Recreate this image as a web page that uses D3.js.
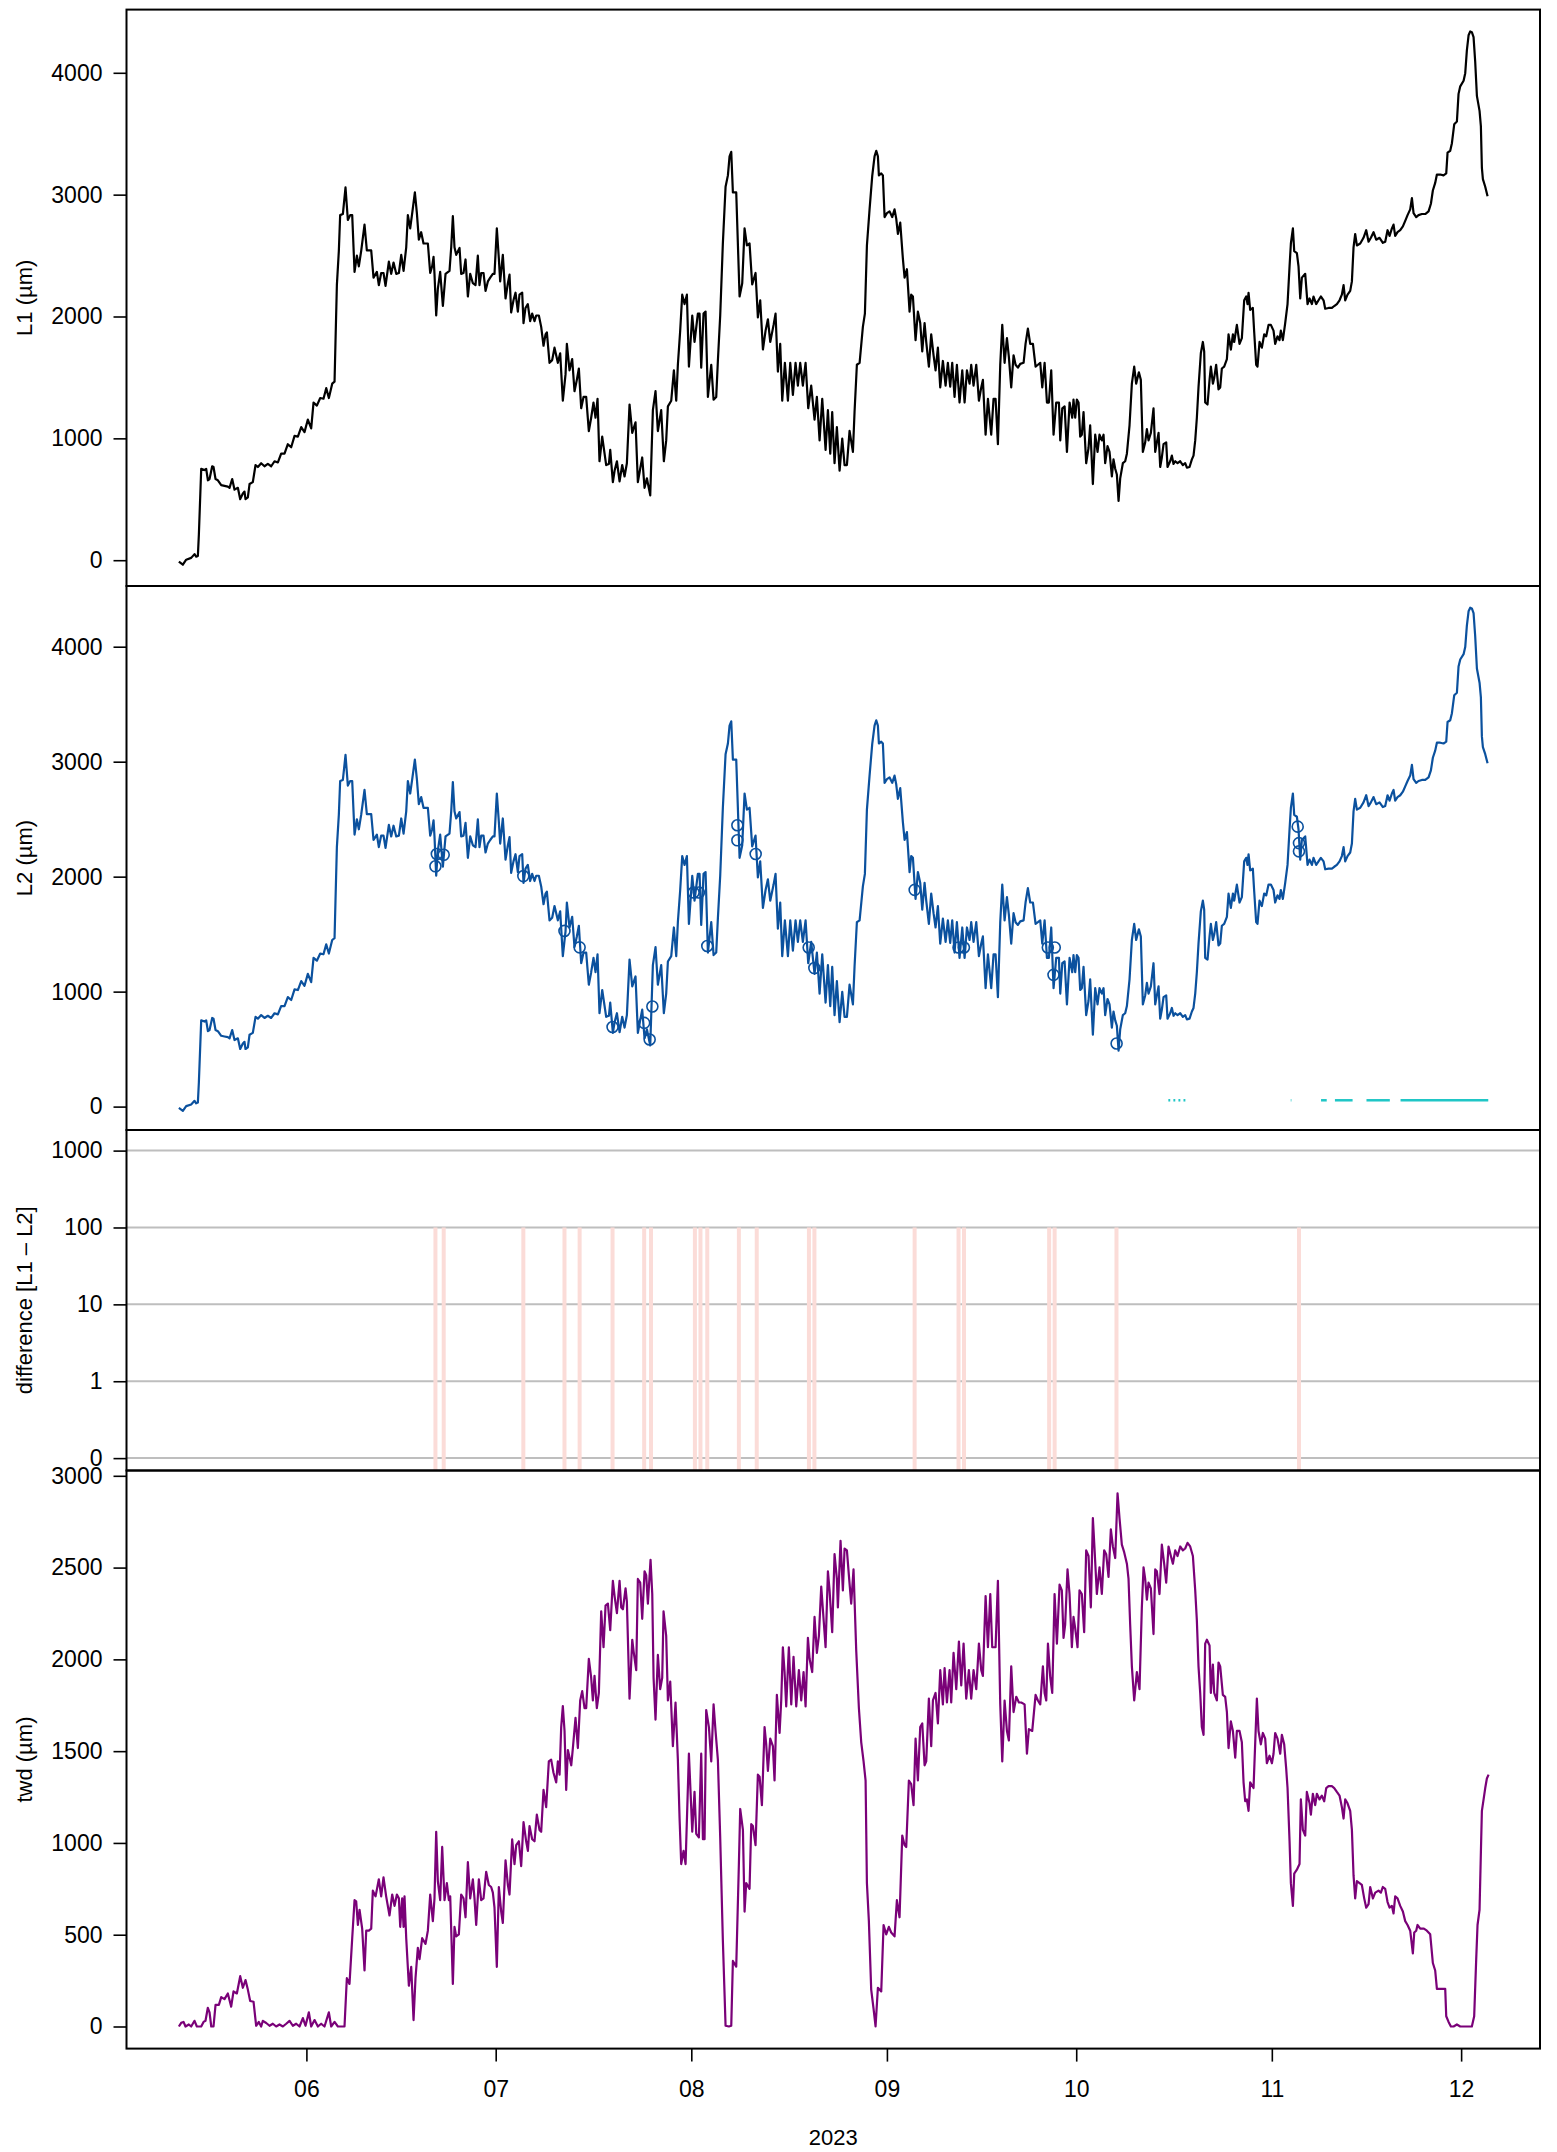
<!DOCTYPE html>
<html>
<head>
<meta charset="utf-8">
<script src="https://d3js.org/d3.v7.min.js"></script>
<style>
  body { margin: 0; background: #fff; }
  svg text { font-family: "Liberation Sans", Arial, sans-serif; fill: #000; }
</style>
</head>
<body>
<div id="chart"></div>
<script>
// time is given as days since 2023-05-01 (UTC), values in µm

const l1Days = [10.79,11.42,11.95,12.74,13.27,13.53,13.80,13.96,14.33,14.86,15.12,15.39,15.65,16.07,16.28,16.60,16.97,17.50,18.02,18.55,18.82,19.24,19.61,20.14,20.51,20.93,21.19,21.35,21.72,21.99,22.51,22.94,23.31,23.83,24.36,24.89,25.42,25.95,26.48,27.00,27.53,28.06,28.59,29.12,29.65,30.18,30.70,31.23,31.76,32.13,32.66,33.19,33.71,34.14,34.56,35.09,35.46,35.61,35.83,36.14,36.35,36.78,37.20,37.57,37.94,38.26,38.63,39.00,39.31,39.68,40.21,40.58,41.27,41.64,42.17,42.48,42.85,43.22,43.54,44.07,44.44,44.81,45.24,45.66,46.03,46.40,46.82,47.08,47.45,47.77,48.19,48.51,48.82,49.19,49.56,50.25,50.62,50.93,51.15,51.30,51.57,51.83,52.20,52.63,53.05,53.68,53.95,54.21,54.47,54.74,55.27,55.53,55.90,56.22,56.59,56.96,57.38,57.80,58.17,58.43,58.70,59.07,59.39,59.76,60.13,60.55,60.81,61.18,61.50,61.71,62.13,62.56,62.93,63.19,63.45,63.82,64.14,64.51,64.77,65.20,65.41,65.72,66.09,66.46,66.78,67.15,67.42,67.84,68.21,68.58,68.90,69.11,69.53,69.95,70.32,70.85,71.22,71.64,72.07,72.28,72.70,73.12,73.49,73.86,74.18,74.55,74.92,75.34,75.76,76.13,76.50,76.82,77.14,77.45,77.88,
  78.51,78.94,79.15,79.57,79.84,80.21,80.63,81.05,81.42,81.79,82.21,82.64,83.16,83.53,83.90,84.22,84.59,84.96,85.49,85.91,86.33,86.70,87.23,87.65,88.02,88.29,88.82,89.24,89.61,89.87,90.24,90.56,90.93,91.30,91.62,92.15,92.51,93.04,93.31,93.57,93.94,94.26,94.63,95.16,95.53,95.95,96.21,96.58,97.00,97.43,97.80,98.06,98.33,98.59,99.12,99.65,100.07,100.44,100.81,101.23,101.65,102.18,102.55,102.92,103.35,103.77,104.14,104.51,105.04,105.35,105.72,106.09,106.41,106.83,107.31,107.68,108.10,108.52,108.89,109.26,109.68,110.11,110.53,111.00,111.53,111.90,112.33,112.75,113.28,113.65,114.02,114.33,114.70,115.07,115.50,115.92,116.29,116.66,117.08,117.61,117.87,118.24,118.67,119.19,119.51,119.83,120.25,120.67,121.04,121.31,121.57,121.73,122.10,122.36,122.63,123.00,123.42,123.84,124.21,124.48,124.74,125.11,125.53,125.80,126.17,126.59,126.85,127.12,127.54,127.91,128.28,128.60,128.97,129.23,129.65,130.02,130.39,130.71,131.08,131.45,131.87,132.30,132.66,133.03,133.35,133.72,134.09,134.51,134.94,135.31,135.68,136.10,136.36,136.73,137.16,137.58,137.95,138.21,138.64,139.01,139.53,139.90,140.22,140.59,140.96,141.28,141.65,142.02,142.33,142.70,143.07,143.39,143.76,144.13,144.66,144.97,145.34,145.71,146.14,146.56,146.93,147.30,147.62,147.99,148.36,148.67,149.04,149.41,149.83,150.26,150.47,150.79,151.16,151.53,151.95,152.37,
  152.57,152.84,153.10,153.37,153.63,153.89,154.16,154.58,154.95,155.21,155.64,156.01,156.38,156.69,157.06,157.33,157.59,157.96,158.28,158.65,158.91,159.18,159.44,159.71,159.97,160.39,160.76,161.03,161.45,161.82,162.19,162.50,162.93,163.24,163.56,163.93,164.20,164.46,164.83,165.25,165.52,165.78,166.05,166.31,166.57,166.84,167.26,167.47,167.89,168.16,168.42,168.69,169.06,169.48,169.90,170.27,170.54,170.96,171.33,171.59,171.86,172.12,172.38,172.75,173.07,173.28,173.44,173.81,174.13,174.34,174.66,174.87,175.18,175.55,175.82,176.08,176.45,176.88,177.14,177.51,177.83,178.04,178.46,178.88,179.25,179.62,179.94,180.15,180.31,180.57,180.99,181.21,181.52,181.73,182.05,182.42,182.79,183.11,183.48,183.85,184.27,184.53,184.90,185.22,185.43,185.75,186.12,186.49,186.81,187.02,187.34,187.55,187.97,188.23,188.50,188.76,189.29,189.66,189.98,190.35,190.61,191.03,191.40,191.77,192.20,192.46,192.99,193.52,193.89,194.31,194.73,195.10,195.37,195.63,196.00,196.42,196.69,196.95,197.21,197.48,198.01,198.53,198.96,199.33,199.70,200.12,200.54,201.07,201.60,201.97,202.34,202.66,203.03,203.29,203.55,203.92,204.35,204.77,205.14,205.51,205.93,206.20,206.46,206.88,207.25,207.78,208.31,208.84,209.21,209.52,209.89,210.16,210.69,211.21,211.64,211.85,212.27,212.54,212.91,213.33,213.59,213.86,214.39,214.65,214.91,215.18,215.44,215.70,215.97,216.23,216.50,216.92,217.13,217.29,217.45,217.82,218.19];

const l1Values = [-12,-37,4,19,50,29,35,212,750,740,750,656,666,771,765,666,656,616,610,604,594,666,579,594,501,548,563,501,516,625,641,781,765,796,771,790,771,812,802,874,874,952,927,1020,1014,1092,1051,1154,1082,1294,1269,1331,1325,1412,1331,1449,1465,1791,2257,2537,2832,2841,3059,2792,2832,2832,2366,2499,2412,2537,2754,2543,2543,2319,2366,2257,2357,2357,2251,2450,2350,2443,2350,2357,2506,2375,2568,2832,2723,2848,3018,2848,2630,2692,2599,2599,2357,2412,2490,2350,2008,2226,2366,2086,2350,2375,2568,2823,2568,2506,2562,2350,2357,2468,2164,2350,2273,2257,2499,2257,2357,2357,2210,2288,2319,2350,2350,2723,2475,2288,2506,2148,2273,2344,2033,2133,2195,2040,2179,2195,1946,2070,2102,1962,2024,1962,2008,2008,1915,1760,1853,1869,1620,1642,1744,1620,1698,1309,1527,1775,1558,1651,1387,1480,1573,1247,1340,1340,1060,1169,1294,1169,1325,812,1014,
  781,790,905,641,734,812,647,781,687,796,1278,1045,1132,641,750,843,594,672,532,1231,1387,1060,1231,812,983,1262,1309,1558,1309,1604,1884,2179,2102,2179,1589,2008,1791,2024,2024,1580,2024,2040,1340,1604,1318,1340,1635,2008,2599,3065,3158,3314,3351,3018,3018,2164,2273,2723,2583,2599,2263,2357,1993,2133,1729,1884,1977,1791,1931,2024,1548,1775,1309,1620,1309,1620,1356,1620,1433,1620,1433,1620,1247,1433,1154,1340,983,1325,905,1231,874,1216,796,1092,734,998,781,781,1061,889,1216,1604,1620,1915,2024,2583,2879,3152,3314,3360,3314,3158,3174,3158,2816,2848,2863,2816,2879,2801,2677,2770,2475,2319,2388,2040,2179,2164,1806,2040,1946,1713,1946,1791,1589,1853,1682,1558,1744,1418,1635,1433,1620,1424,1620,1340,1604,1294,1558,1294,1558,1449,1604,1433,1604,1309,1418,1480,1030,1325,1030,1325,1325,952,1604,1931,1620,1822,1667,1418,1682,1604,1580,1611,1620,1775,1900,1775,1775,1589,1604,1620,1418,1620,1294,1294,1558,1030,1294,1294,983,1247,1262,889,1294,1169,
  1318,1169,1318,1294,1014,1030,1216,796,921,1107,625,1030,889,1030,983,1030,796,936,889,687,827,750,703,486,672,796,812,874,1107,1449,1589,1449,1542,1480,889,967,1076,983,1045,1247,889,967,1045,765,843,952,967,765,812,858,790,812,796,812,781,796,759,765,827,858,983,1169,1418,1698,1791,1713,1294,1278,1480,1589,1449,1496,1604,1402,1418,1573,1589,1651,1853,1729,1853,1791,1931,1775,1822,2133,2164,2102,2195,2055,2070,1869,1604,1589,1791,1744,1853,1837,1931,1931,1884,1775,1837,1806,1884,1806,1946,2102,2412,2599,2723,2537,2521,2412,2148,2319,2350,2102,2148,2102,2164,2102,2133,2164,2133,2064,2070,2070,2086,2102,2133,2179,2257,2133,2179,2210,2288,2568,2677,2583,2599,2646,2708,2614,2646,2692,2630,2646,2605,2614,2708,2661,2723,2754,2661,2692,2708,2739,2785,2832,2879,2972,2848,2816,2832,2841,2841,2863,2925,3034,3096,3165,3165,3158,3174,3345,3360,3422,3578,3600,3827,3889,3935,3997,4184,4308,4339,4333,4293,4091,3811,3687,3562,3220,3127,3065,2987];

// L2 follows L1 exactly outside the flagged points
const l2Days = l1Days;
const l2Values = l1Values;

const twdDays = [10.79,11.16,11.53,11.84,12.37,12.74,13.27,13.64,14.33,14.70,15.01,15.38,15.65,15.92,16.28,16.60,17.13,17.50,18.02,18.55,19.08,19.45,19.98,20.51,20.93,21.35,21.72,22.09,22.62,23.04,23.46,23.83,24.10,24.63,25.16,25.68,26.21,26.74,27.27,27.80,28.33,28.85,29.38,29.91,30.44,30.86,31.39,31.76,32.29,32.82,33.34,33.87,34.56,34.93,35.46,35.99,37.04,37.41,37.83,38.26,38.63,38.89,39.16,39.42,39.84,40.21,40.48,40.90,41.27,41.53,41.96,42.48,42.85,43.22,43.64,44.17,44.60,44.97,45.34,45.66,45.87,46.18,46.40,46.55,46.82,47.24,47.61,47.98,48.29,48.66,48.93,49.35,49.88,50.25,50.62,51.04,51.30,51.57,51.83,52.20,52.52,52.89,53.26,53.58,53.79,54.21,54.47,54.74,55.16,55.53,55.90,56.22,56.59,56.96,57.38,57.64,57.91,58.33,58.70,59.07,59.49,59.91,60.28,60.55,60.81,61.18,61.50,61.87,62.13,62.56,62.93,63.19,63.61,63.98,64.25,64.67,65.04,65.41,65.83,66.10,66.36,66.78,67.15,67.52,67.94,68.21,68.58,69.00,69.42,69.79,70.16,70.59,70.85,71.12,71.38,71.64,71.91,72.17,72.44,72.97,73.23,73.65,74.02,74.39,74.71,75.08,75.34,75.76,76.13,76.40,76.66,77.03,77.35,77.72,78.09,
  78.41,78.78,79.15,79.57,79.84,80.21,80.63,80.89,81.16,81.58,81.79,82.21,82.64,82.85,83.27,83.53,83.90,84.22,84.59,84.85,85.12,85.54,85.81,86.02,86.33,86.70,87.07,87.39,87.60,88.02,88.29,88.66,89.08,89.50,89.87,90.14,90.40,90.77,91.09,91.62,92.15,92.51,92.78,93.20,93.57,93.84,94.10,94.36,94.79,95.16,95.53,95.84,96.21,96.58,97.00,97.43,97.96,98.33,98.59,99.12,99.54,99.75,100.18,100.44,100.70,101.23,101.50,101.76,102.18,102.55,102.82,103.19,103.61,103.87,104.14,104.51,104.93,105.19,105.56,105.99,106.25,106.51,106.78,107.04,107.46,107.84,108.20,108.63,109.05,109.42,109.79,110.11,110.48,110.74,111.16,111.53,111.90,112.22,112.59,112.85,113.28,113.65,113.91,114.33,114.70,115.07,115.23,115.65,116.02,116.29,116.66,116.97,117.34,117.71,118.14,118.56,118.93,119.30,119.62,119.83,120.14,120.51,120.88,121.20,121.57,122.10,122.47,122.89,123.31,123.68,124.21,124.58,125.00,125.43,125.80,126.06,126.48,126.85,127.22,127.54,127.91,128.28,128.60,128.97,129.23,129.65,130.02,130.29,130.71,131.08,131.45,131.87,132.14,132.51,132.93,133.19,133.56,133.99,134.41,134.78,135.15,135.57,135.99,136.36,136.73,137.16,137.58,137.95,138.21,138.64,139.01,139.38,139.69,140.22,140.59,140.96,141.28,141.65,142.02,142.33,142.70,143.07,143.50,143.92,144.29,144.82,145.19,145.50,146.03,146.56,146.93,147.30,147.72,147.99,148.25,148.52,148.89,149.20,149.57,149.94,150.36,
  150.72,150.99,151.25,151.62,151.94,152.31,152.57,152.84,153.21,153.52,153.89,154.26,154.58,154.95,155.32,155.64,155.90,156.27,156.69,157.06,157.43,157.75,158.12,158.49,158.81,159.18,159.55,159.86,160.23,160.60,161.03,161.29,161.55,161.82,162.19,162.61,163.03,163.40,163.67,163.93,164.20,164.46,164.83,165.25,165.52,165.78,166.20,166.57,166.94,167.26,167.63,168.00,168.32,168.69,169.06,169.48,169.90,170.27,170.64,171.06,171.49,171.86,172.12,172.38,172.65,172.91,173.18,173.44,173.71,174.13,174.34,174.66,174.87,175.29,175.55,175.82,176.24,176.61,176.88,177.14,177.51,177.83,178.20,178.46,178.88,179.25,179.52,179.78,180.04,180.31,180.57,181.10,181.37,181.63,181.89,182.26,182.58,182.95,183.21,183.64,184.01,184.27,184.53,184.90,185.33,185.59,185.96,186.28,186.49,186.81,187.02,187.34,187.55,187.97,188.39,188.60,188.92,189.29,189.55,189.98,190.19,190.50,190.87,191.14,191.56,191.93,192.30,192.62,192.99,193.52,193.89,194.31,194.73,195.10,195.37,195.63,196.00,196.42,196.69,196.95,197.21,197.48,197.90,198.27,198.64,198.96,199.33,199.59,200.02,200.39,200.91,201.28,201.60,201.97,202.34,202.66,203.03,203.29,203.55,203.92,204.35,204.77,205.14,205.51,205.93,206.35,206.57,206.88,207.09,207.52,208.10,208.57,209.10,209.52,209.89,210.16,210.80,211.48,211.64,212.01,212.38,212.80,213.33,213.86,214.91,215.70,216.07,216.39,216.60,216.92,217.13,217.29,217.56,217.82,218.08,218.35];

const twdValues = [0,20,25,0,11,0,31,0,0,25,31,102,77,0,0,118,118,160,149,180,108,191,180,274,211,253,201,139,135,4,25,0,31,19,4,15,0,11,0,15,31,4,15,0,46,4,77,0,35,0,15,0,77,0,25,0,0,263,232,481,688,682,553,636,533,305,522,522,533,740,709,802,709,812,709,605,719,657,719,698,543,698,543,709,481,222,325,35,263,429,367,481,450,522,719,574,698,1061,792,688,978,688,781,688,709,232,543,491,502,719,698,595,895,698,802,698,553,802,688,698,843,771,760,729,647,325,760,626,564,905,771,719,1020,885,988,1009,874,1113,1009,957,1092,1020,1009,1154,1071,1061,1289,1195,1444,1454,1382,1330,1444,1372,1631,1745,1610,1289,1506,1423,1517,1682,1517,1776,1827,1734,1734,2003,1900,1776,1910,1734,1817,2262,2066,
  2293,2304,2159,2428,2345,2252,2428,2283,2273,2387,2314,1786,2107,2045,1941,2438,2418,2221,2480,2459,2304,2542,2356,1900,1672,2024,1838,1900,2262,2128,1776,1879,1527,1765,1454,1133,885,957,885,1486,1061,1278,1050,1030,1486,1020,1020,1724,1631,1444,1755,1610,1454,1030,470,4,0,4,357,326,885,1185,1071,626,781,750,1102,1092,988,1372,1361,1206,1631,1537,1392,1568,1527,1340,1807,1599,1776,2066,1931,1744,2066,1755,2014,1744,1941,1776,1931,1744,2117,2003,1931,2231,2035,2128,2397,2273,2066,2480,2376,2148,2573,2438,2283,2646,2376,2604,2594,2459,2304,2490,2045,1734,1548,1444,1340,781,574,201,97,0,211,191,553,502,543,512,491,688,595,1040,988,978,1340,1320,1206,1568,1340,1631,1651,1423,1444,1786,1527,1776,1817,1651,1941,1755,1952,1765,1941,1765,2035,1838,2097,1858,2086,1786,1941,1786,1941,1838,2086,1941,1910,2345,2066,2356,2066,2066,2428,1755,1444,1776,1610,1558,1962,1713,1796,1765,1765,1755,1486,1620,1610,1807,1776,1755,1962,1817,1776,2086,1900,1817,2356,2086,2407,
  2376,2117,2190,2490,2356,2066,2231,2169,2066,2376,2356,2148,2594,2563,2283,2770,2604,2356,2501,2356,2594,2573,2449,2708,2615,2552,2905,2770,2625,2584,2521,2438,2190,1962,1776,1931,1838,2283,2501,2438,2325,2418,2387,2138,2490,2480,2356,2625,2521,2418,2615,2563,2521,2594,2563,2615,2594,2604,2635,2615,2563,2376,2211,1962,1817,1631,1589,2086,2107,2076,1817,1972,1817,1776,1983,1962,1807,1796,1713,1517,1662,1610,1465,1610,1610,1548,1330,1227,1237,1175,1330,1299,1548,1786,1610,1537,1599,1568,1434,1475,1434,1486,1599,1568,1486,1589,1537,1403,1299,1009,781,657,833,854,885,1237,1071,1040,1278,1216,1154,1268,1206,1268,1237,1258,1227,1299,1309,1309,1299,1278,1258,1195,1133,1237,1216,1175,1071,823,698,792,781,771,698,647,667,760,698,729,740,729,760,750,678,647,657,616,709,698,657,626,574,553,522,398,512,522,553,533,533,522,502,346,305,205,205,205,56,25,0,0,11,0,0,0,56,367,553,636,947,1175,1237,1299,1351,1372];

// flagged points: L1 - L2 difference bars and the corrected L2 points
const diffDays = [51.45,52.76,65.38,71.90,74.30,79.52,84.53,85.61,92.57,93.45,94.53,99.54,102.37,110.64,111.51,127.39,134.35,135.22,148.71,149.58,159.38,188.31];
const diffValues = [100,100,100,100,100,100,100,100,100,100,100,100,100,100,100,100,100,100,100,100,100,100];

const markDays = [51.45,51.67,52.76,65.38,71.90,74.30,79.52,84.53,85.40,85.83,92.36,93.20,94.53,99.30,99.30,102.20,110.60,111.50,127.40,134.35,135.20,148.50,149.60,149.40,159.40,188.10,188.30,188.30];
const markValues = [2090,2197,2190,2005,1528,1385,692,728,584,871,1862,1862,1397,2447,2316,2197,1384,1205,1885,1384,1384,1384,1384,1146,549,2435,2292,2220];

// cyan flag segments near the bottom of the L2 panel
const flagStart = [167.6,168.4,169.2,170.0,187.0,191.8,194.0,199.0,204.4];
const flagEnd   = [167.9,168.7,169.5,170.3,187.1,192.7,196.8,202.7,218.3];
const flagLevel = 55;

const levelTicks = [0, 1000, 2000, 3000, 4000];
const diffTicks = [0, 1, 10, 100, 1000];
const twdTicks = [0, 500, 1000, 1500, 2000, 2500, 3000];
const monthTicks = ["2023-06-01","2023-07-01","2023-08-01","2023-09-01","2023-10-01","2023-11-01","2023-12-01"];

const W = 1557, H = 2152;
const X0 = 126.5, X1 = 1540;
const panels = [
  {top: 9.6, bottom: 586},
  {top: 586, bottom: 1130},
  {top: 1130, bottom: 1470.5},
  {top: 1470.5, bottom: 2048.6}
];

const base = Date.UTC(2023, 4, 1);
const toDate = t => new Date(base + t * 864e5);

const x = d3.scaleUtc()
  .domain([toDate(2.49), toDate(226.5)])
  .range([X0, X1]);

const y1 = d3.scaleLinear().domain([-211.7, 4518.6]).range([panels[0].bottom, panels[0].top]);
const y2 = d3.scaleLinear().domain([-203.5, 4528]).range([panels[1].bottom, panels[1].top]);
// difference panel: decades, zero placed one decade below 1
const y3 = d3.scaleLinear().domain([-1.161, 3.268]).range([panels[2].bottom, panels[2].top]);
const dpos = v => v > 0 ? Math.log10(v) : -1;
const y4 = d3.scaleLinear().domain([-120.4, 3028.9]).range([panels[3].bottom, panels[3].top]);

const svg = d3.select("#chart").append("svg")
  .attr("width", W).attr("height", H)
  .style("background", "#fff");

const zip = (a, b) => a.map((d, i) => [d, b[i]]);

function drawLine(days, vals, yScale, color) {
  svg.append("path")
    .datum(zip(days, vals))
    .attr("fill", "none")
    .attr("stroke", color)
    .attr("stroke-width", 2.2)
    .attr("stroke-linejoin", "round")
    .attr("d", d3.line().x(d => x(toDate(d[0]))).y(d => yScale(d[1])));
}

// ---- panel 3 grid + bars (under the frames)
svg.append("g").selectAll("line")
  .data(diffTicks)
  .join("line")
  .attr("x1", X0).attr("x2", X1)
  .attr("y1", d => y3(dpos(d))).attr("y2", d => y3(dpos(d)))
  .attr("stroke", "#bebebe").attr("stroke-width", 2);

svg.append("g").selectAll("line")
  .data(zip(diffDays, diffValues))
  .join("line")
  .attr("x1", d => x(toDate(d[0]))).attr("x2", d => x(toDate(d[0])))
  .attr("y1", panels[2].bottom).attr("y2", d => y3(dpos(d[1])))
  .attr("stroke", "#fbdcd8").attr("stroke-width", 4);

// ---- series
drawLine(l1Days, l1Values, y1, "#000");
drawLine(l2Days, l2Values, y2, "#0b519e");
drawLine(twdDays, twdValues, y4, "#7a0178");

svg.append("g").selectAll("line")
  .data(zip(flagStart, flagEnd))
  .join("line")
  .attr("x1", d => x(toDate(d[0]))).attr("x2", d => x(toDate(d[1])))
  .attr("y1", y2(flagLevel)).attr("y2", y2(flagLevel))
  .attr("stroke", "#1fc6c6").attr("stroke-width", 2.5);

svg.append("g").selectAll("circle")
  .data(zip(markDays, markValues))
  .join("circle")
  .attr("cx", d => x(toDate(d[0])))
  .attr("cy", d => y2(d[1]))
  .attr("r", 5.5)
  .attr("fill", "none")
  .attr("stroke", "#0b519e")
  .attr("stroke-width", 1.6);

// ---- frames
panels.forEach(p => {
  svg.append("rect")
    .attr("x", X0).attr("y", p.top)
    .attr("width", X1 - X0).attr("height", p.bottom - p.top)
    .attr("fill", "none").attr("stroke", "#000").attr("stroke-width", 2);
});

// ---- axes
function styleAxis(g) {
  g.select(".domain").remove();
  g.selectAll(".tick line").attr("stroke", "#000").attr("stroke-width", 1.6);
  g.selectAll(".tick text").attr("font-size", 23).attr("fill", "#000");
}

svg.append("g").attr("transform", `translate(${X0},0)`)
  .call(d3.axisLeft(y1).tickValues(levelTicks).tickSize(13).tickPadding(11).tickFormat(d3.format("d")))
  .call(styleAxis);
svg.append("g").attr("transform", `translate(${X0},0)`)
  .call(d3.axisLeft(y2).tickValues(levelTicks).tickSize(13).tickPadding(11).tickFormat(d3.format("d")))
  .call(styleAxis);
svg.append("g").attr("transform", `translate(${X0},0)`)
  .call(d3.axisLeft(y3).tickValues(diffTicks.map(dpos)).tickSize(13).tickPadding(11)
    .tickFormat((d, i) => String(diffTicks[i])))
  .call(styleAxis);
svg.append("g").attr("transform", `translate(${X0},0)`)
  .call(d3.axisLeft(y4).tickValues(twdTicks).tickSize(13).tickPadding(11).tickFormat(d3.format("d")))
  .call(styleAxis);

svg.append("g").attr("transform", `translate(0,${panels[3].bottom})`)
  .call(d3.axisBottom(x).tickValues(monthTicks.map(s => new Date(s + "T00:00:00Z")))
    .tickSize(13).tickPadding(19).tickFormat(d3.utcFormat("%m")))
  .call(styleAxis);

// ---- titles
const titles = ["L1 (µm)", "L2 (µm)", "difference [L1 – L2]", "twd (µm)"];
titles.forEach((t, i) => {
  const cy = (panels[i].top + panels[i].bottom) / 2;
  svg.append("text")
    .attr("transform", `translate(32,${cy}) rotate(-90)`)
    .attr("text-anchor", "middle")
    .attr("font-size", 22)
    .text(t);
});

svg.append("text")
  .attr("x", (X0 + X1) / 2).attr("y", 2145)
  .attr("text-anchor", "middle")
  .attr("font-size", 22)
  .text("2023");
</script>
</body>
</html>
